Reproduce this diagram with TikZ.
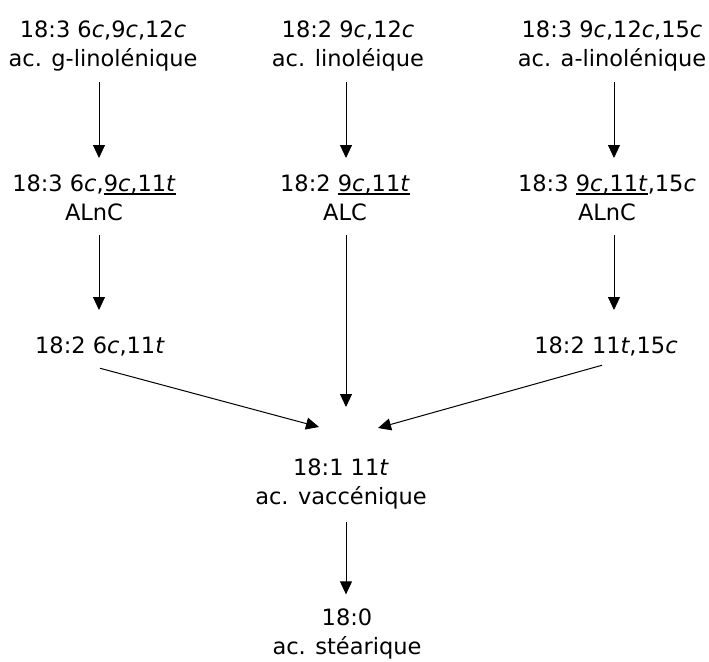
\documentclass[tikz,border=0pt]{standalone}
\usepackage{fontspec}
\setmainfont{DejaVu Sans}
\usetikzlibrary{arrows.meta}
\newcommand\myul[1]{\setbox0\hbox{#1}\rlap{\rule[-3.5pt]{\wd0}{1.6pt}}\box0}
\newcommand\ic[1]{\textit{#1}}
\begin{document}
\begin{tikzpicture}[x=1pt,y=-1pt,
  lbl/.style={inner sep=0pt,anchor=north,align=center,font=\fontsize{22.5}{29.5}\selectfont},
  arr/.style={line width=1pt,-{Triangle[length=13pt,width=12pt]}}]
\useasboundingbox (0,0) rectangle (709,661);
% columns for arrows
\coordinate (xl) at (99,0);
\coordinate (xm) at (346,0);
\coordinate (xr) at (614,0);
% row 1
\node[lbl] (r1l) at (103,16.35) {\strut 18:3 6\ic{c},9\ic{c},12\ic{c}\\ac. g-linolénique\strut};
\node[lbl] (r1m) at (348,16.35) {\strut 18:2 9\ic{c},12\ic{c}\\ac. linoléique\strut};
\node[lbl] (r1r) at (612,16.35) {\strut 18:3 9\ic{c},12\ic{c},15\ic{c}\\ac. a-linolénique\strut};
% row 2
\node[lbl] (r2l) at (94,170.35) {\strut 18:3 6\ic{c},\myul{9\ic{c},11\ic{t}}\\ALnC\strut};
\node[lbl] (r2m) at (345,170.35) {\strut 18:2 \myul{9\ic{c},11\ic{t}}\\ALC\strut};
\node[lbl] (r2r) at (607,170.35) {\strut 18:3 \myul{9\ic{c},11\ic{t}},15\ic{c}\\ALnC\strut};
% row 3
\node[lbl] (r3l) at (100,332.35) {\strut 18:2 6\ic{c},11\ic{t}\strut};
\node[lbl] (r3r) at (606,332.35) {\strut 18:2 11\ic{t},15\ic{c}\strut};
% row 4
\node[lbl] (r4) at (341,454.35) {\strut 18:1 11\ic{t}\\ac. vaccénique\strut};
% row 5
\node[lbl] (r5) at (347,604.35) {\strut 18:0\\ac. stéarique\strut};
% arrow tips at the convergence
\coordinate (tl) at (319,427);
\coordinate (tr) at (378,428);
% arrows
\draw[arr,shorten <=6.65pt,shorten >=12.35pt] (xl |- r1l.south) -- (xl |- r2l.north);
\draw[arr,shorten <=6.65pt,shorten >=12.35pt] (xm |- r1m.south) -- (xm |- r2m.north);
\draw[arr,shorten <=6.65pt,shorten >=12.35pt] (xr |- r1r.south) -- (xr |- r2r.north);
\draw[arr,shorten <=5.65pt,shorten >=22.35pt] (xl |- r2l.south) -- (xl |- r3l.north);
\draw[arr,shorten <=5.65pt,shorten >=47.35pt] (xm |- r2m.south) -- (xm |- r4.north);
\draw[arr,shorten <=5.65pt,shorten >=22.35pt] (xr |- r2r.south) -- (xr |- r3r.north);
\draw[arr] ([yshift=-6pt]r3l.south) -- (tl);
\draw[arr] ([xshift=-4pt,yshift=-3pt]r3r.south) -- (tr);
\draw[arr,shorten <=8.65pt,shorten >=10pt] (xm |- r4.south) -- (xm |- r5.north);
\end{tikzpicture}
\end{document}
